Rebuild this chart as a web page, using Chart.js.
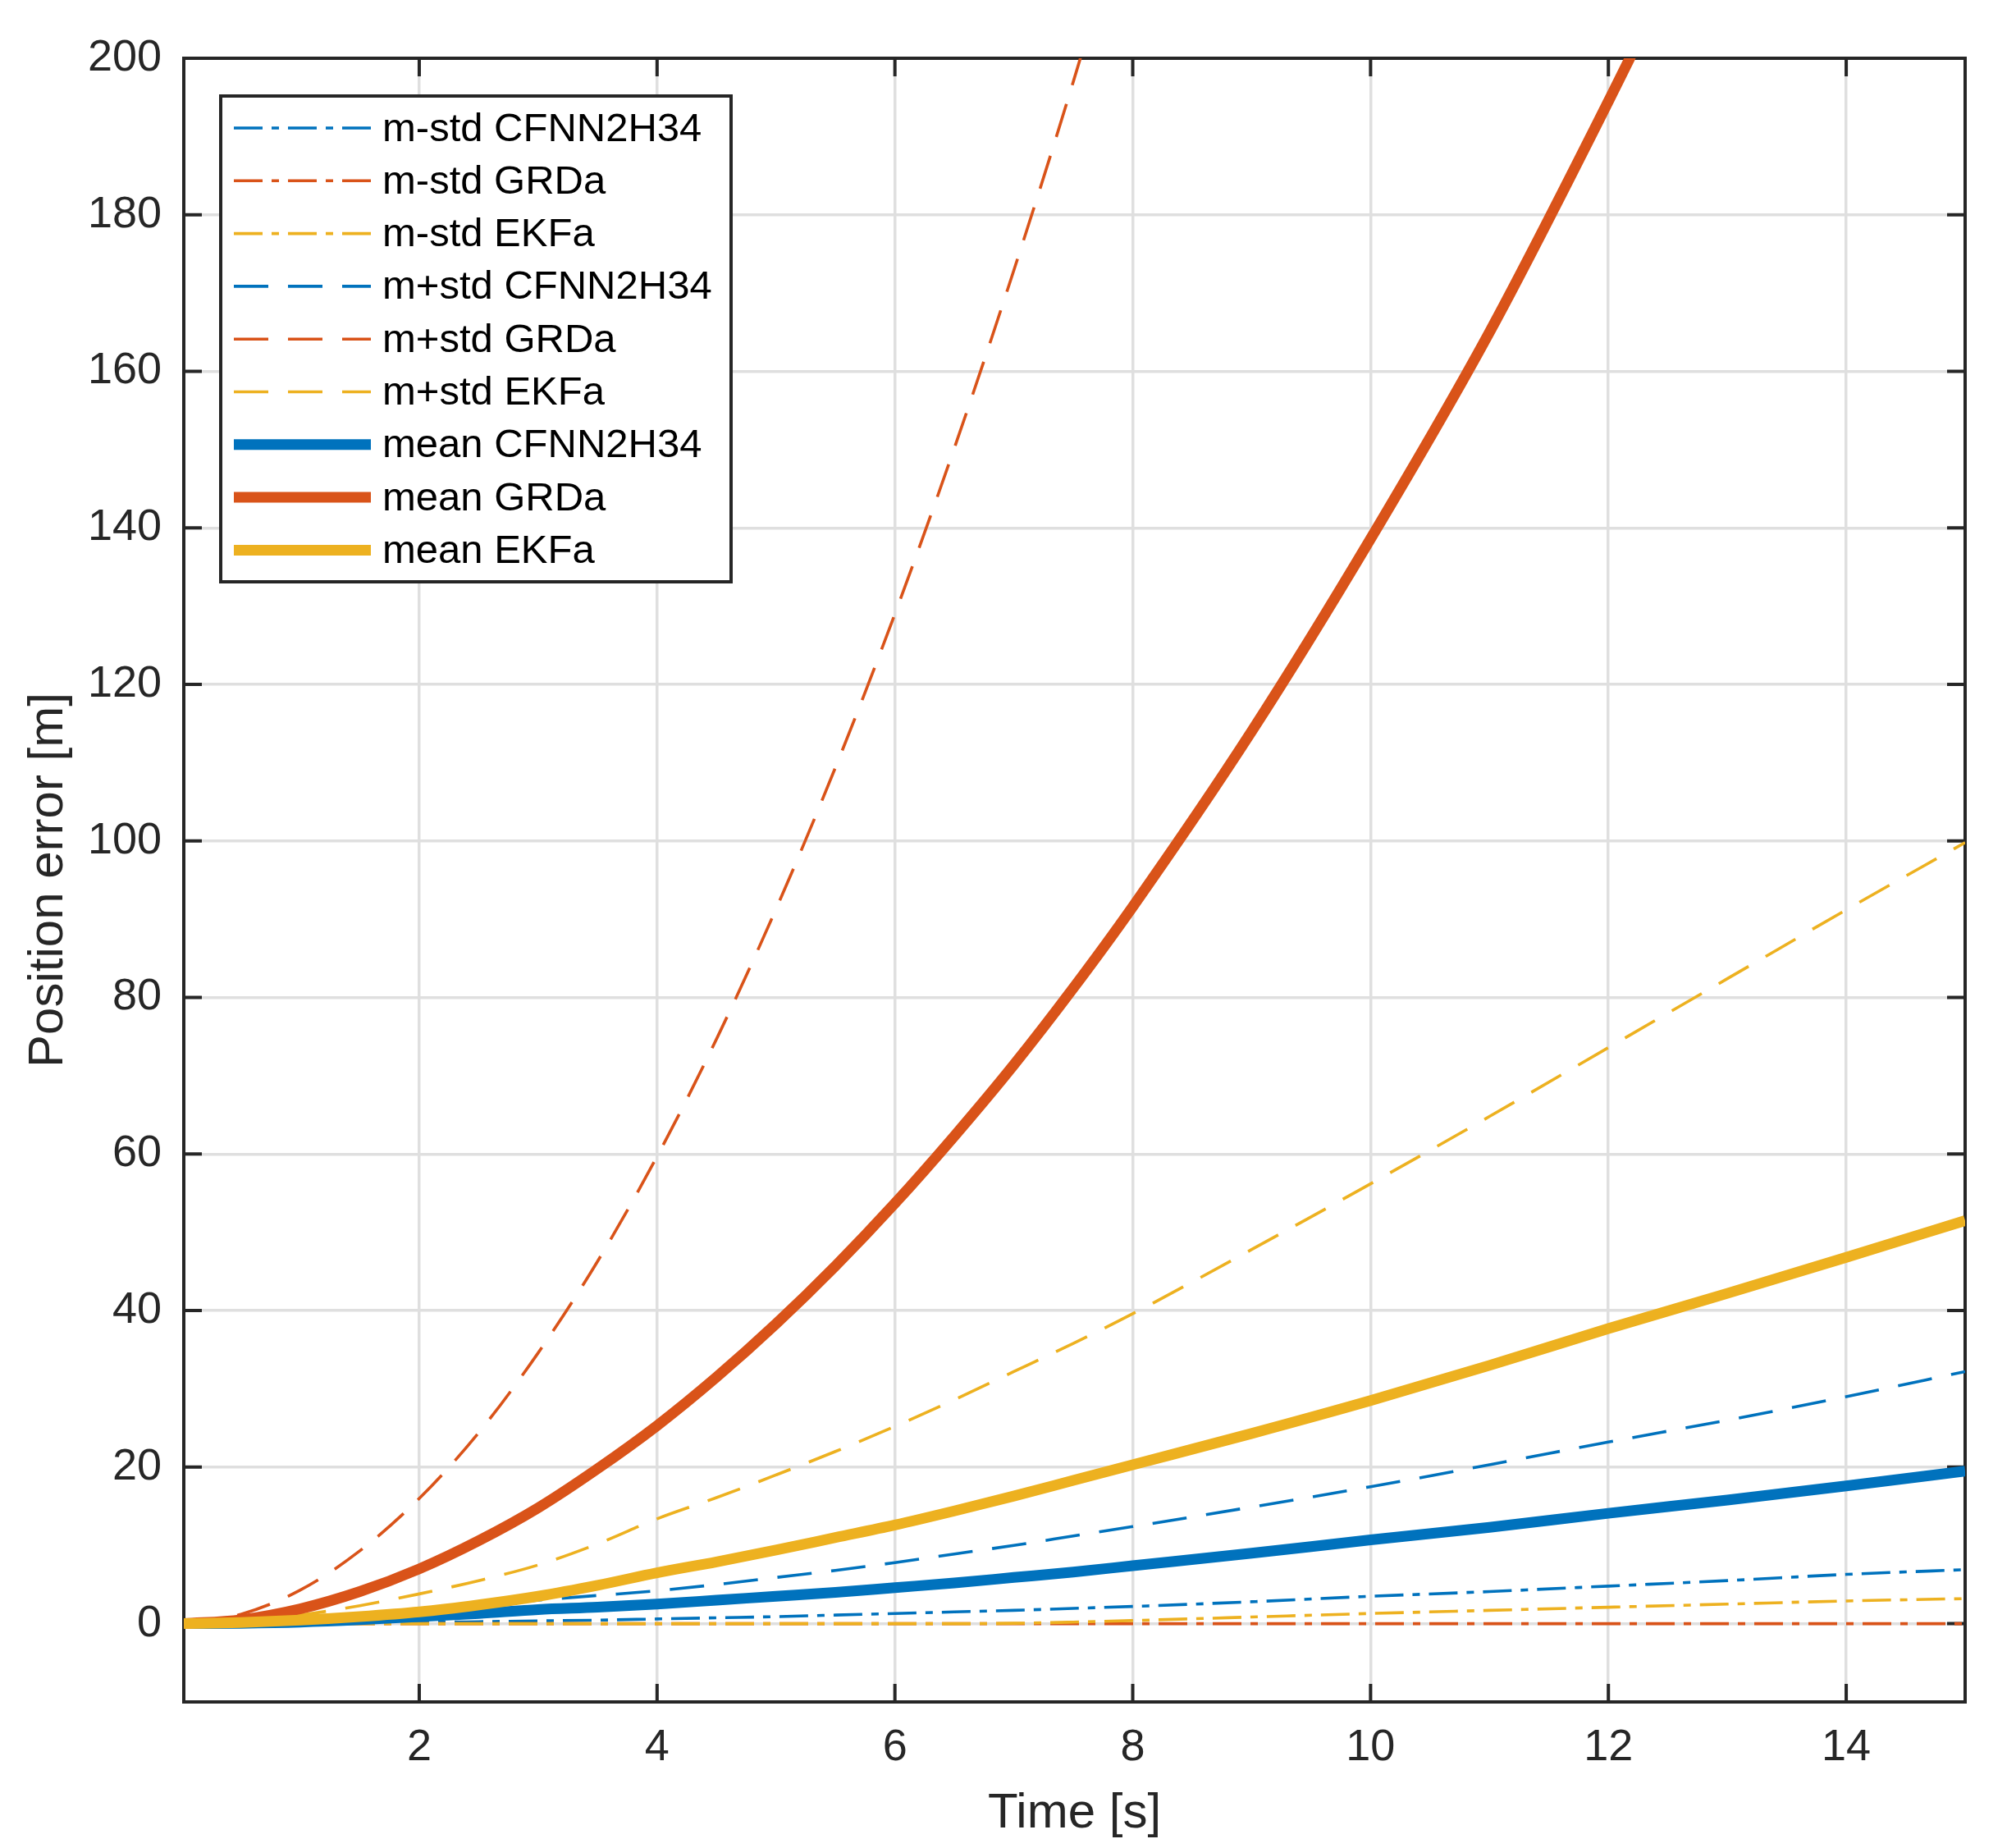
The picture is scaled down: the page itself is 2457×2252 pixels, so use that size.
<!DOCTYPE html>
<html>
<head>
<meta charset="utf-8">
<script src="https://cdn.jsdelivr.net/npm/chart.js@4.4.1/dist/chart.umd.min.js"></script>
<style>
    html, body { margin: 0; padding: 0; background: #fff; }
    #wrap { width: 2457px; height: 2252px; }
</style>
</head>
<body>
<div id="wrap"><canvas id="chart" width="2457" height="2252"></canvas></div>
<script>
// time axis [s]
const time = [0.02, 0.5, 1, 1.5, 2, 2.5, 3, 3.5, 4, 4.5, 5, 5.5, 6, 6.5, 7, 7.5, 8, 9, 10, 11, 12, 13, 14, 15];

// m-std (dash-dot)
const lowCFNN = [0, 0, 0, 0.05, 0.15, 0.25, 0.35, 0.45, 0.6, 0.75, 0.9, 1.1, 1.3, 1.5, 1.7, 1.95, 2.2, 2.8, 3.5, 4.1, 4.8, 5.5, 6.3, 6.9];
const lowGRDa = [0, 0, 0, 0, 0, 0, 0, 0, 0, 0, 0, 0, 0, 0, 0, 0, 0, 0, 0, 0, 0, 0, 0, 0];
const lowEKFa = [0, 0, 0, 0, 0, 0, 0, 0, 0, 0, 0, 0, 0, 0, 0.05, 0.2, 0.4, 0.85, 1.3, 1.7, 2.1, 2.5, 2.9, 3.2];

// m+std (dashed)
const highCFNN = [0, 0.1, 0.4, 0.9, 1.5, 2.2, 3.0, 3.6, 4.2, 5.0, 5.9, 6.8, 7.8, 8.9, 10.0, 11.2, 12.4, 14.9, 17.5, 20.3, 23.2, 26.0, 29.0, 32.2];
const highGRDa = [0, 1.2, 4.3, 9.3, 16, 24.4, 34.6, 46.3, 59.7, 74.7, 91.3, 109.4, 129, 150.2, 172.9, 197, 222.8, null, null, null, null, null, null, null];
const highEKFa = [0, 0.3, 1.1, 2.3, 3.8, 5.5, 7.5, 10.2, 13.4, 16.1, 19.0, 22.0, 25.2, 28.6, 32.2, 35.8, 39.6, 47.8, 56.2, 64.8, 73.6, 82.4, 91.2, 99.8];

// mean (thick)
const meanCFNN = [0, 0.05, 0.2, 0.5, 0.9, 1.3, 1.8, 2.1, 2.5, 3.0, 3.5, 4.0, 4.6, 5.2, 5.9, 6.6, 7.4, 9.0, 10.7, 12.3, 14.1, 15.8, 17.6, 19.5];
const meanGRDa = [0, 0.5, 1.9, 4.1, 7.0, 10.6, 14.8, 19.8, 25.3, 31.5, 38.3, 45.7, 53.7, 62.3, 71.4, 81.2, 91.6, 114, 138.6, 165, 194.5, 225.5, null, null];
const meanEKFa = [0, 0.15, 0.45, 0.9, 1.5, 2.4, 3.5, 4.9, 6.5, 7.9, 9.4, 11.0, 12.6, 14.4, 16.3, 18.3, 20.3, 24.3, 28.5, 33.0, 37.7, 42.2, 46.8, 51.5];

const seriesNames = [
    "m-std CFNN2H34", "m-std GRDa", "m-std EKFa",
    "m+std CFNN2H34", "m+std GRDa", "m+std EKFa",
    "mean CFNN2H34", "mean GRDa", "mean EKFa",
];
const seriesValues = [lowCFNN, lowGRDa, lowEKFa, highCFNN, highGRDa, highEKFa, meanCFNN, meanGRDa, meanEKFa];

const xTicks = [2, 4, 6, 8, 10, 12, 14];
const yTicks = [0, 20, 40, 60, 80, 100, 120, 140, 160, 180, 200];

const colors = ["#0072BD", "#D95319", "#EDB120"];
const dashDot = [35, 11, 9, 11];
const dashed = [42, 24];
const FONT = "'Liberation Sans', Arial, Helvetica, sans-serif";
const INK = "#262626";

const datasets = seriesValues.map((values, i) => {
    const group = Math.floor(i / 3);
    return {
        label: seriesNames[i],
        data: time.map((t, k) => ({ x: t, y: values[k] })),
        borderColor: colors[i % 3],
        backgroundColor: colors[i % 3],
        borderWidth: group === 2 ? 13 : 3.6,
        borderDash: group === 0 ? dashDot : group === 1 ? dashed : [],
        borderCapStyle: "butt",
        borderJoinStyle: "round",
        cubicInterpolationMode: "monotone",
        pointRadius: 0,
        pointHoverRadius: 0,
        fill: false,
        spanGaps: false,
        clip: 0,
        order: 9 - i,
    };
});

// box, inward ticks (MATLAB style)
const axesFrame = {
    id: "axesFrame",
    beforeDatasetsDraw(chart) {
        const { ctx, chartArea: a, scales } = chart;
        const len = 22;
        ctx.save();
        ctx.strokeStyle = INK;
        ctx.lineWidth = 4;
        ctx.beginPath();
        xTicks.forEach((v) => {
            const px = scales.x.getPixelForValue(v);
            ctx.moveTo(px, a.bottom);
            ctx.lineTo(px, a.bottom - len);
            ctx.moveTo(px, a.top);
            ctx.lineTo(px, a.top + len);
        });
        yTicks.forEach((v) => {
            const py = scales.y.getPixelForValue(v);
            ctx.moveTo(a.left, py);
            ctx.lineTo(a.left + len, py);
            ctx.moveTo(a.right, py);
            ctx.lineTo(a.right - len, py);
        });
        ctx.stroke();
        ctx.strokeRect(a.left, a.top, a.right - a.left, a.bottom - a.top);
        ctx.restore();
    },
};

// legend inside the axes, upper left
const insideLegend = {
    id: "insideLegend",
    afterDatasetsDraw(chart) {
        const { ctx, chartArea: a } = chart;
        const x0 = a.left + 45;
        const y0 = a.top + 46;
        const w = 622;
        const h = 592;
        const rowH = 64.3;
        ctx.save();
        ctx.fillStyle = "#fff";
        ctx.fillRect(x0, y0, w, h);
        ctx.lineWidth = 4;
        ctx.strokeStyle = INK;
        ctx.setLineDash([]);
        ctx.strokeRect(x0, y0, w, h);
        ctx.font = "49px " + FONT;
        ctx.textBaseline = "middle";
        ctx.textAlign = "left";
        chart.data.datasets.forEach((ds, i) => {
            const cy = y0 + 39 + i * rowH;
            ctx.beginPath();
            ctx.strokeStyle = ds.borderColor;
            ctx.lineWidth = ds.borderWidth;
            ctx.lineCap = "butt";
            ctx.setLineDash(ds.borderDash);
            ctx.moveTo(x0 + 16, cy);
            ctx.lineTo(x0 + 183, cy);
            ctx.stroke();
            ctx.setLineDash([]);
            ctx.fillStyle = "#000";
            ctx.fillText(ds.label, x0 + 197, cy + 2);
        });
        ctx.restore();
    },
};

new Chart(document.getElementById("chart"), {
    type: "line",
    data: { datasets },
    options: {
        responsive: false,
        devicePixelRatio: 1,
        animation: false,
        events: [],
        layout: { padding: { top: 71, right: 62, left: 0, bottom: 0 } },
        plugins: {
            legend: { display: false },
            tooltip: { enabled: false },
        },
        scales: {
            x: {
                type: "linear",
                min: 0.02,
                max: 15,
                afterFit: (scale) => {
                    scale.height = 178;
                },
                afterBuildTicks: (scale) => {
                    scale.ticks = xTicks.map((v) => ({ value: v }));
                },
                grid: { color: "#dfdfdf", lineWidth: 3.5, drawTicks: false },
                border: { display: false },
                ticks: {
                    padding: 24,
                    color: INK,
                    font: { family: FONT, size: 54 },
                    maxRotation: 0,
                },
                title: {
                    display: true,
                    text: "Time [s]",
                    color: INK,
                    font: { family: FONT, size: 60 },
                    padding: { top: 0, bottom: 6 },
                },
            },
            y: {
                type: "linear",
                min: -10,
                max: 200,
                afterFit: (scale) => {
                    scale.width = 224;
                },
                afterBuildTicks: (scale) => {
                    scale.ticks = yTicks.map((v) => ({ value: v }));
                },
                grid: { color: "#dfdfdf", lineWidth: 3.5, drawTicks: false },
                border: { display: false },
                ticks: {
                    padding: 27,
                    color: INK,
                    font: { family: FONT, size: 54 },
                },
                title: {
                    display: true,
                    text: "Position error [m]",
                    color: INK,
                    font: { family: FONT, size: 60 },
                    padding: { top: 23, bottom: 0 },
                },
            },
        },
    },
    plugins: [axesFrame, insideLegend],
});
</script>
</body>
</html>
